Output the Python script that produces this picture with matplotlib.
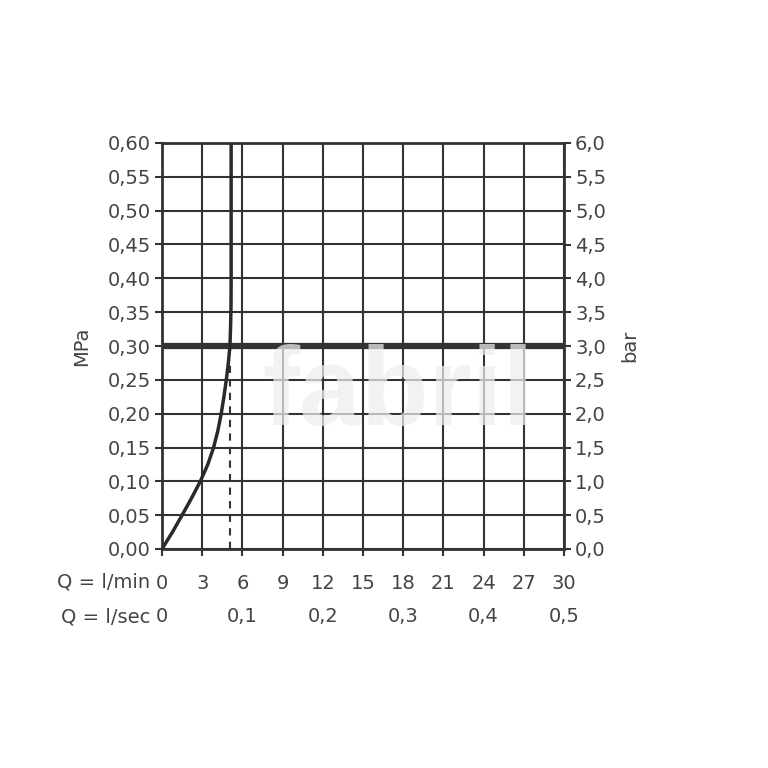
import matplotlib
matplotlib.use("Agg")
import matplotlib.pyplot as plt
from matplotlib.ticker import FixedLocator
import matplotlib.transforms as mtransforms

plt.rcParams['font.family'] = ['DejaVu Sans']

# Data
flow_lmin = [0.0, 0.78, 1.50, 2.20, 2.86, 3.42, 3.85, 4.17, 4.42, 4.62, 4.80, 4.95, 5.07, 5.12, 5.15, 5.16, 5.16]
pressure_mpa = [0.0, 0.025, 0.05, 0.075, 0.10, 0.125, 0.15, 0.175, 0.20, 0.225, 0.25, 0.275, 0.30, 0.33, 0.36, 0.40, 0.60]
operating_pressure = 0.30
operating_flow = 5.05

lmin_ticks = [0, 3, 6, 9, 12, 15, 18, 21, 24, 27, 30]
lsec_pos = [0, 6, 12, 18, 24, 30]
lsec_labels = ['0', '0,1', '0,2', '0,3', '0,4', '0,5']
mpa_ticks = [0.0, 0.05, 0.10, 0.15, 0.20, 0.25, 0.30, 0.35, 0.40, 0.45, 0.50, 0.55, 0.60]
bar_ticks = [0.0, 0.5, 1.0, 1.5, 2.0, 2.5, 3.0, 3.5, 4.0, 4.5, 5.0, 5.5, 6.0]

ink = '#333333'
txt = '#444444'
fs = 14

fig = plt.figure(figsize=(7.68, 7.68), dpi=100)
ax = fig.add_axes([162/768, 1-549/768, (564-162)/768, (549-143)/768])
ax.set_xlim(0, 30)
ax.set_ylim(0, 0.6)

ax.xaxis.set_major_locator(FixedLocator(lmin_ticks))
ax.yaxis.set_major_locator(FixedLocator(mpa_ticks))
ax.set_xticklabels([str(t) for t in lmin_ticks])
ax.set_yticklabels([f"{t:.2f}".replace('.', ',') for t in mpa_ticks])
ax.grid(True, color=ink, linewidth=1.5, zorder=1)
ax.set_axisbelow(True)
for s in ax.spines.values():
    s.set_color(ink)
    s.set_linewidth(2.0)
ax.tick_params(axis='both', colors=ink, labelcolor=txt, labelsize=fs, width=1.5, length=5)
ax.tick_params(axis='x', pad=13)
ax.tick_params(axis='y', pad=3)

# thick operating pressure line
ax.axhline(operating_pressure, color=ink, linewidth=4.5, zorder=3)
# curve
ax.plot(flow_lmin, pressure_mpa, color='#2a2a2a', linewidth=2.5, zorder=4,
        solid_joinstyle='round', solid_capstyle='butt')
# dashed vertical
ax.plot([operating_flow, operating_flow], [0, operating_pressure - 0.02], color=ink,
        linewidth=1.5, linestyle=(0, (3.5, 3)), zorder=3)

ax.set_ylabel('MPa', fontsize=fs, color=txt, labelpad=12)

ax2 = ax.twinx()
ax2.set_ylim(0, 6)
ax2.yaxis.set_major_locator(FixedLocator(bar_ticks))
ax2.set_yticklabels([f"{t:.1f}".replace('.', ',') for t in bar_ticks])
ax2.tick_params(axis='y', colors=ink, labelcolor=txt, labelsize=fs, width=1.5, length=5, pad=3)
for s in ax2.spines.values():
    s.set_visible(False)
ax2.set_ylabel('bar', fontsize=fs, color=txt, rotation=90, labelpad=10)

# second row of x labels (l/sec)
trans = mtransforms.blended_transform_factory(ax.transData, fig.transFigure)
for p, lab in zip(lsec_pos, lsec_labels):
    ax.text(p, 1-617/768, lab, transform=trans, ha='center', va='center', fontsize=fs, color=txt)
fig.text(150/768, 1-582/768, 'Q = l/min', ha='right', va='center', fontsize=fs, color=txt)
fig.text(150/768, 1-617/768, 'Q = l/sec', ha='right', va='center', fontsize=fs, color=txt)

# watermark
fig.text(262/768, 1-425/768, 'fabril', ha='left', va='baseline', fontsize=80,
         fontweight='bold', family=['Liberation Sans', 'DejaVu Sans'], color='#eeeeee',
         alpha=0.72, zorder=10)

fig.savefig('out.png', dpi=100)
